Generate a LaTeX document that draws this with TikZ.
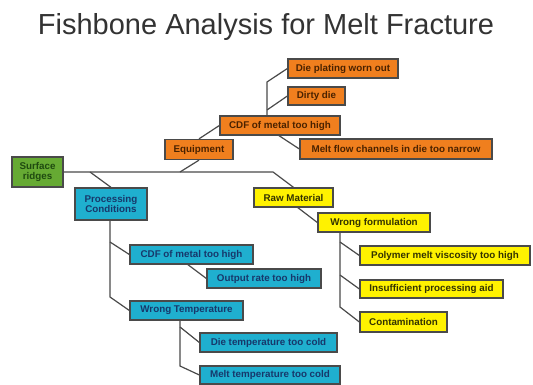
\documentclass[tikz,border=0pt]{standalone}
\usepackage{fontspec}
\setmainfont{Liberation Sans}
\usetikzlibrary{calc}
\definecolor{ofill}{HTML}{F07F1E}
\definecolor{tfill}{HTML}{1FAFCF}
\definecolor{yfill}{HTML}{FFF200}
\definecolor{gfill}{HTML}{66AA33}
\definecolor{edge}{HTML}{4A4A4A}
\definecolor{otext}{HTML}{4A2200}
\definecolor{ttext}{HTML}{17386B}
\definecolor{ytext}{HTML}{333300}
\definecolor{gtext}{HTML}{1F4A10}
\tikzset{
  cbox/.style={draw=edge, line width=1.3pt, inner sep=0pt, font=\fontsize{9.8}{10.5}\selectfont\bfseries, align=center},
  obox/.style={cbox, fill=ofill, text=otext},
  tbox/.style={cbox, fill=tfill, text=ttext},
  ybox/.style={cbox, fill=yfill, text=ytext},
  gbox/.style={cbox, fill=gfill, text=gtext},
  link/.style={draw=edge, line width=1.2pt}
}
\begin{document}
\begin{tikzpicture}[x=1pt,y=-1pt]
\useasboundingbox (0,0) rectangle (533,385);
\node[font=\fontsize{29}{32}\selectfont, text=black!80] (title) at (266,27) {Fishbone Analysis for Melt Fracture};

% nodes
\node[gbox, minimum width=51, minimum height=30] (sr) at (37.5,172) {Surface\\ridges};
\node[obox, minimum width=68, minimum height=20] (eq) at (199,149.5) {Equipment};
\node[obox, minimum width=120, minimum height=19] (cdf) at (280,125.5) {CDF of metal too high};
\node[obox, minimum width=110, minimum height=19] (dp) at (343,68.5) {Die plating worn out};
\node[obox, minimum width=57, minimum height=18] (dd) at (316.5,96) {Dirty die};
\node[obox, minimum width=192, minimum height=20] (mf) at (396,149) {Melt flow channels in die too narrow};
\node[tbox, minimum width=72, minimum height=32] (pc) at (111,204) {Processing\\Conditions};
\node[tbox, minimum width=123, minimum height=19] (tcdf) at (191.5,254.5) {CDF of metal too high};
\node[tbox, minimum width=114, minimum height=19] (or) at (264,278.5) {Output rate too high};
\node[tbox, minimum width=113, minimum height=19] (wt) at (186.5,310.5) {Wrong Temperature};
\node[tbox, minimum width=137, minimum height=19] (dt) at (268.5,342.5) {Die temperature too cold};
\node[tbox, minimum width=140, minimum height=18] (mt) at (270,375) {Melt temperature too cold};
\node[ybox, minimum width=79, minimum height=19] (rm) at (293.5,197.5) {Raw Material};
\node[ybox, minimum width=112, minimum height=19] (wf) at (374,222.5) {Wrong formulation};
\node[ybox, minimum width=170, minimum height=19] (pm) at (445,255.5) {Polymer melt viscosity too high};
\node[ybox, minimum width=143, minimum height=18] (ip) at (431.5,289) {Insufficient processing aid};
\node[ybox, minimum width=87, minimum height=20] (ct) at (403.5,322) {Contamination};

% junction coordinates
\coordinate (spEnd) at (273,172);
\coordinate (spEq) at (180,172);
\coordinate (spPc) at (90,172);
\coordinate (cv1) at (267,82);
\coordinate (cv2) at (267,110);
\coordinate (mfs) at (278,135);
\coordinate (pv1) at (110,242);
\coordinate (pv2) at (110,297);
\coordinate (ors) at (187,264);
\coordinate (wv1) at (180,327);
\coordinate (wv2) at (180,366);
\coordinate (rms) at (297,207);
\coordinate (fv1) at (340,242);
\coordinate (fv2) at (340,275);
\coordinate (fv3) at (340,307);

% spine
\draw[link] (sr.east |- spEnd) -- (spEnd) -- (rm.north);
\draw[link] (spEq) -- (eq.south);
\draw[link] (spPc) -- (pc.north);
% equipment
\draw[link] (eq.north) -- (cdf.west);
\draw[link] (cdf.north -| cv1) -- (cv1) -- (dp.west);
\draw[link] (cv2) -- (dd.west);
\draw[link] (mfs) -- (mf.west);
% processing conditions
\draw[link] (pc.south -| pv2) -- (pv2) -- (wt.west);
\draw[link] (pv1) -- (tcdf.west);
\draw[link] (ors) -- (or.west);
\draw[link] (wt.south -| wv2) -- (wv2) -- (mt.west);
\draw[link] (wv1) -- (dt.west);
% raw material
\draw[link] (rms) -- (wf.west);
\draw[link] (wf.south -| fv3) -- (fv3) -- (ct.west);
\draw[link] (fv1) -- (pm.west);
\draw[link] (fv2) -- (ip.west);
\end{tikzpicture}
\end{document}
